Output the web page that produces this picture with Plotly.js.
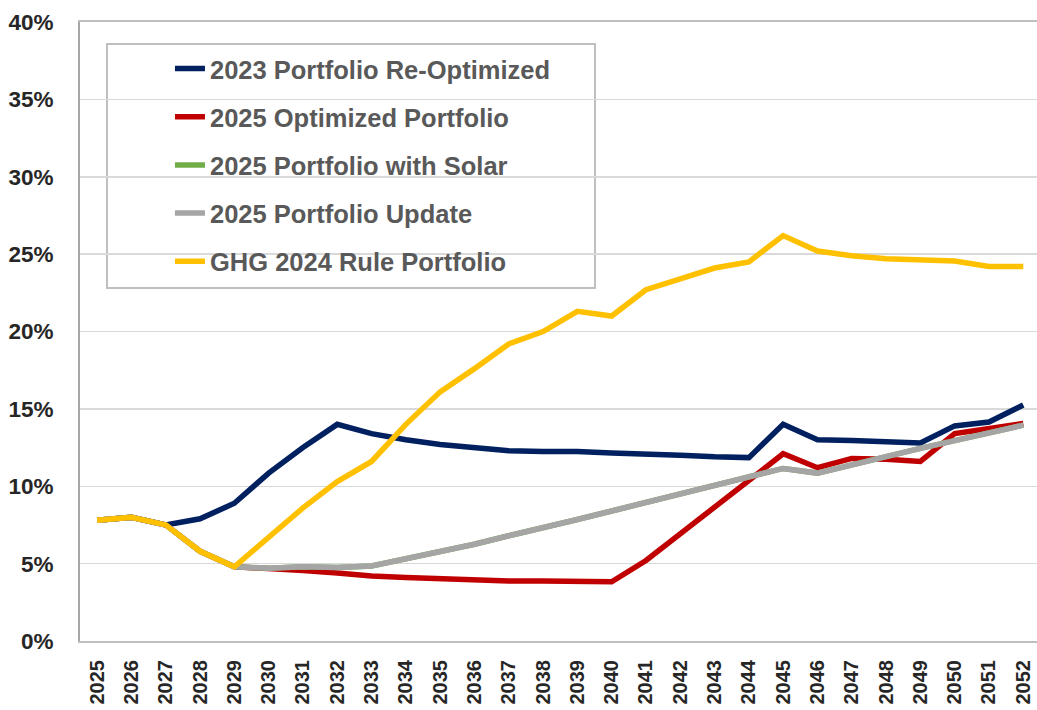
<!DOCTYPE html>
<html>
<head>
<meta charset="utf-8">
<script src="https://cdn.plot.ly/plotly-3.0.1.min.js"></script>
<style>html,body{margin:0;padding:0;background:#fff;}#chart{width:1037px;height:710px;}</style>
</head>
<body>
<div id="chart"></div>
<script>
const years = ["2025","2026","2027","2028","2029","2030","2031","2032","2033","2034","2035","2036","2037","2038","2039","2040","2041","2042","2043","2044","2045","2046","2047","2048","2049","2050","2051","2052"];
const seriesNames = ["2023 Portfolio Re-Optimized","2025 Optimized Portfolio","2025 Portfolio with Solar","2025 Portfolio Update","GHG 2024 Rule Portfolio"];
const reOptimized2023 = [7.8,8.0,7.5,7.9,8.9,10.85,12.5,14.0,13.4,13.0,12.7,12.5,12.3,12.25,12.25,12.15,12.1,12.0,11.9,11.85,14.0,13.0,12.95,12.85,12.8,13.9,14.15,15.25];
const optimized2025 = [7.8,8.0,7.5,5.8,4.8,4.7,4.55,4.4,4.2,4.1,4.0,3.95,3.88,3.87,3.85,3.83,5.2,6.95,8.7,10.4,12.1,11.2,11.8,11.75,11.6,13.4,13.75,14.05];
const withSolar2025 = [7.8,8.0,7.5,5.8,4.8,4.7,4.8,4.75,4.85,5.3,5.75,6.25,6.8,7.3,7.85,8.4,8.95,9.5,10.05,10.6,11.15,10.85,11.4,11.95,12.45,12.95,13.45,13.95];
const update2025 = [7.8,8.0,7.5,5.8,4.8,4.7,4.8,4.75,4.85,5.3,5.75,6.25,6.8,7.3,7.85,8.4,8.95,9.5,10.05,10.6,11.15,10.85,11.4,11.95,12.45,12.95,13.45,13.95];
const ghg2024 = [7.8,8.0,7.5,5.8,4.8,6.7,8.6,10.3,11.6,14.0,16.1,17.6,19.2,20.0,21.3,21.0,22.7,23.4,24.1,24.5,26.2,25.2,24.9,24.7,24.6,24.55,24.2,24.2];
const yTicks = [0,5,10,15,20,25,30,35,40];

const colors = ["#002060","#C00000","#70AD47","#A5A5A5","#FFC000"];
const allSeries = [reOptimized2023, optimized2025, withSolar2025, update2025, ghg2024];

const traces = allSeries.map((vals,i)=>({
  x: years, y: vals, type:'scatter', mode:'lines', name: seriesNames[i],
  legendgroup: 'g'+i,
  line:{color:colors[i], width:5.5, shape:'linear'},
  hoverinfo:'x+y'
}));

const layout = {
  width:1037, height:710,
  margin:{l:80, r:0, t:22, b:69},
  paper_bgcolor:'#fff', plot_bgcolor:'#fff',
  showlegend:true,
  legend:{
    x:0.094, y:0.962, xanchor:'left', yanchor:'top',
    bgcolor:'rgba(0,0,0,0)', borderwidth:0,
    traceorder:'grouped', tracegroupgap:12,
    font:{family:'"Liberation Sans", Arial, sans-serif', size:25.5, color:'#595959', weight:'bold'}
  },
  xaxis:{
    type:'category', range:[-0.5, 27.4],
    showline:true, mirror:true, linecolor:'#BFBFBF', linewidth:2,
    showgrid:false, zeroline:false, ticks:'',
    tickangle:-90, ticklabelstandoff:9,
    tickfont:{family:'"Liberation Sans", Arial, sans-serif', size:20, color:'#262626', weight:'bold'}
  },
  yaxis:{
    range:[0,40], tickvals:yTicks, ticktext:yTicks.map(v=>v+'%'),
    showline:true, linecolor:'#A6A6A6', linewidth:2,
    showgrid:true, gridcolor:'#D9D9D9', gridwidth:1.5, zeroline:false,
    ticks:'', ticklabelstandoff:20,
    tickfont:{family:'"Liberation Sans", Arial, sans-serif', size:22.5, color:'#262626', weight:'bold'}
  },
  shapes:[{type:'rect', xref:'paper', yref:'paper', x0:(107-80)/957, x1:(595-80)/957, y0:(641-288)/619, y1:(641-44)/619, line:{color:'#BFBFBF', width:2}, fillcolor:'rgba(255,255,255,1)', layer:'below'}]
};

Plotly.newPlot('chart', traces, layout, {displayModeBar:false, staticPlot:true});
</script>
</body>
</html>
